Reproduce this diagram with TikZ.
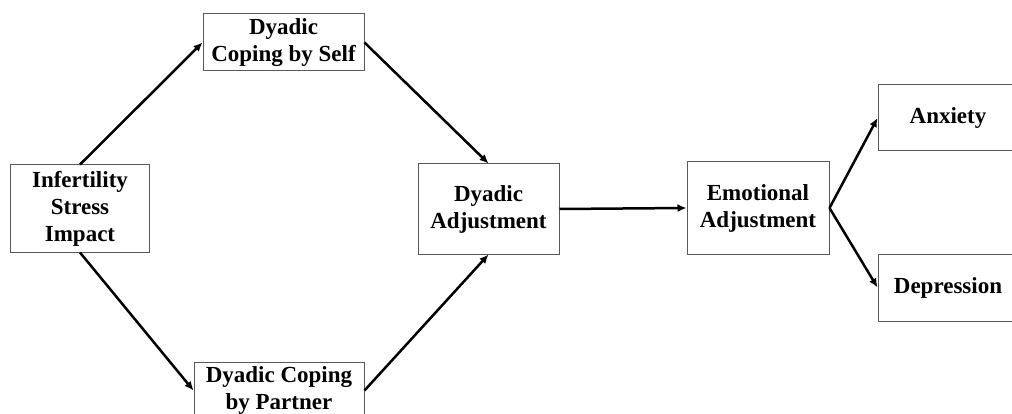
\documentclass[tikz,border=0pt]{standalone}
\usepackage{fontspec}
\setmainfont{Liberation Serif}
\usetikzlibrary{positioning,arrows.meta}

\begin{document}
\begin{tikzpicture}[x=1pt, y=-1pt,
    box/.style={draw=black!65, line width=1pt, align=center, inner sep=2pt,
        font=\fontsize{23}{27}\selectfont\bfseries},
    arr/.style={-{Latex[length=9pt,width=8pt]}, line width=2.5pt}]
% Page frame
\clip (0,0) rectangle (1012,414);

% Boxes
\node[box, minimum width=139pt, minimum height=87pt] (stress) at (80,208.5) {Infertility\\Stress\\Impact};
\node[box, minimum width=161pt, minimum height=57pt] (self) at (283.5,42.5) {Dyadic\\Coping by Self};
\node[box, minimum width=170pt, minimum height=57pt] (partner) at (279,390.5) {Dyadic Coping\\by Partner};
\node[box, minimum width=141pt, minimum height=90pt] (dyadic) at (488.5,209) {Dyadic\\Adjustment};
\node[box, minimum width=142pt, minimum height=92pt] (emotion) at (758,208) {Emotional\\Adjustment};
\node[box, minimum width=140pt, minimum height=66pt] (anxiety) at (948,118) {Anxiety};
\node[box, minimum width=140pt, minimum height=67pt] (depression) at (948,287.5) {Depression};

% Paths
\draw[arr] (stress.north) -- (self.west);
\draw[arr] (stress.south) -- (partner.west);
\draw[arr] (self.east) -- (dyadic.north);
\draw[arr] (partner.east) -- (dyadic.south);
\draw[arr] (dyadic.east) -- (emotion.west);
\draw[arr] (emotion.east) -- (anxiety.west);
\draw[arr] (emotion.east) -- (depression.west);
\end{tikzpicture}
\end{document}
